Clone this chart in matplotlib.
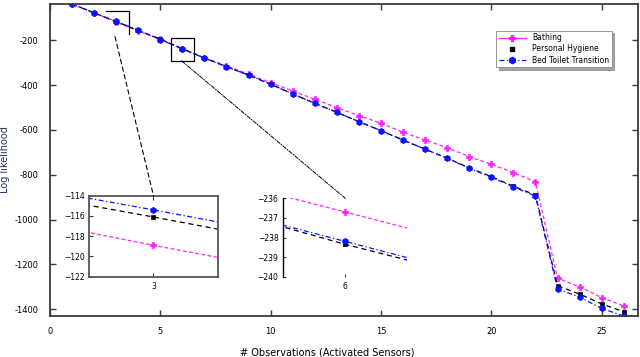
import numpy as np
import matplotlib
matplotlib.use("Agg")
import matplotlib.pyplot as plt
from matplotlib.lines import Line2D
from matplotlib.patches import Rectangle, ConnectionPatch

# --- data ---
obs = list(range(1, 27))
bathing = [-38, -77, -118.9, -158.5, -196, -236.7, -277.7, -314, -351, -389,
           -426, -463, -500, -536, -570, -610, -645, -679, -719, -753,
           -790, -831, -1262, -1299, -1348, -1385]
hygiene = [-38, -78, -116.1, -156, -194, -238.35, -278.4, -318, -355, -396,
           -439, -481, -521, -563, -603, -645, -686, -726, -769, -808,
           -851, -890, -1295, -1332, -1376, -1411]
bed_toilet = [-38, -77.5, -115.4, -155, -197, -238.2, -279.7, -318, -355, -396,
              -439, -481, -521, -563, -603, -645, -686, -726, -771, -811,
              -854, -895, -1309, -1346, -1396, -1430]

labels = ["Bathing", "Personal Hygiene", "Bed Toilet Transition"]
x_ticks = [0, 5, 10, 15, 20, 25]
y_ticks = [-200, -400, -600, -800, -1000, -1200, -1400]
inset1_ticks = [-114, -116, -118, -120, -122]
inset2_ticks = [-236, -237, -238, -239, -240]

styles = [
    dict(color="#ff22ff", ls=(0, (3, 2)), marker="P", ms=4.5),
    dict(color="black", ls=(0, (4, 3)), marker="s", ms=3.5),
    dict(color="#0a14ff", ls=(0, (4, 2, 1, 2)), marker="h", ms=4.5),
]
series = [bathing, hygiene, bed_toilet]

spine_col = "#3a3a3a"


def draw_series(ax):
    for ys, st in zip(series, styles):
        ax.plot(obs, ys, color=st["color"], linestyle=st["ls"], linewidth=0.9,
                marker=st["marker"], markersize=st["ms"],
                markeredgewidth=0.5, markeredgecolor=st["color"])


fig = plt.figure(figsize=(6.4, 3.57), dpi=100)
ax = fig.add_axes([0.078, 0.1148, 0.919, 0.874])
draw_series(ax)
ax.set_xlim(0, 26.65)
ax.set_ylim(-1430, -38)
ax.set_xticks(x_ticks)
ax.set_yticks(y_ticks)
ax.set_yticklabels([str(v) for v in y_ticks])
ax.tick_params(direction="in", top=True, right=True, length=4, width=1,
               labelsize=6, color=spine_col, pad=8)
for s in ax.spines.values():
    s.set_color(spine_col)
    s.set_linewidth(1.3)
ax.set_xlabel("# Observations (Activated Sensors)", fontsize=7)
ax.xaxis.set_label_coords(0.471, -0.10)
ax.set_ylabel("Log likelihood", fontsize=7, color="#22305a")
ax.yaxis.set_label_coords(-0.068, 0.5)

# legend
handles = [
    Line2D([], [], color=styles[0]["color"], ls="-", lw=0.9, marker="P", ms=4.5),
    Line2D([], [], color="black", ls="none", marker="s", ms=3.5),
    Line2D([], [], color=styles[2]["color"], ls=(0, (4, 2, 1, 2)), lw=0.9, marker="h", ms=4.5),
]
leg = ax.legend(handles, labels, loc="upper right", bbox_to_anchor=(0.955, 0.915),
                fontsize=5.5, frameon=True, fancybox=False, shadow=True,
                handlelength=3.5, borderpad=0.35, labelspacing=0.3, borderaxespad=0)
leg.get_frame().set_edgecolor("#888888")
leg.get_frame().set_linewidth(0.6)

# zoom windows in main axes
z1 = (2.52, 3.59, -173, -68)
z2 = (5.50, 6.54, -291, -191)
ax.plot([z1[0], z1[1], z1[1]], [z1[3], z1[3], z1[2]], color="black", lw=0.9)
ax.add_patch(Rectangle((z2[0], z2[2]), z2[1] - z2[0], z2[3] - z2[2],
                       fill=False, edgecolor="black", lw=0.9))

# inset 1 around x=3
ax1 = fig.add_axes([0.1395, 0.2249, 0.2006, 0.2269])
draw_series(ax1)
ax1.set_xlim(2.97, 3.03)
ax1.set_ylim(-122, -114)
ax1.set_xticks([3])
ax1.set_yticks(inset1_ticks)
ax1.tick_params(direction="in", top=True, length=3, labelsize=5.5, color=spine_col)
for s in ax1.spines.values():
    s.set_color("#555555")
    s.set_linewidth(1.3)

# inset 2 around x=6
ax2 = fig.add_axes([0.4427, 0.2249, 0.1938, 0.2196])
draw_series(ax2)
ax2.set_xlim(5.98, 6.02)
ax2.set_ylim(-240, -236)
ax2.set_xticks([6])
ax2.set_yticks(inset2_ticks)
ax2.tick_params(direction="in", length=2, labelsize=5.5, color=spine_col)
for k in ["top", "right", "bottom"]:
    ax2.spines[k].set_visible(False)
ax2.spines["left"].set_color("black")
ax2.spines["left"].set_linewidth(1.0)
ax2.patch.set_alpha(0)

# connectors
c1 = ConnectionPatch(xyA=(2.95, -184), coordsA=ax.transData,
                     xyB=(3, -114), coordsB=ax1.transData,
                     color="black", lw=0.8, ls=(0, (4, 3)))
c2 = ConnectionPatch(xyA=(5.97, -292), coordsA=ax.transData,
                     xyB=(6, -236), coordsB=ax2.transData,
                     color="black", lw=0.7, ls=(0, (4, 1.5, 1, 1.5)))
fig.add_artist(c1)
fig.add_artist(c2)

fig.savefig("out.png", dpi=100)
